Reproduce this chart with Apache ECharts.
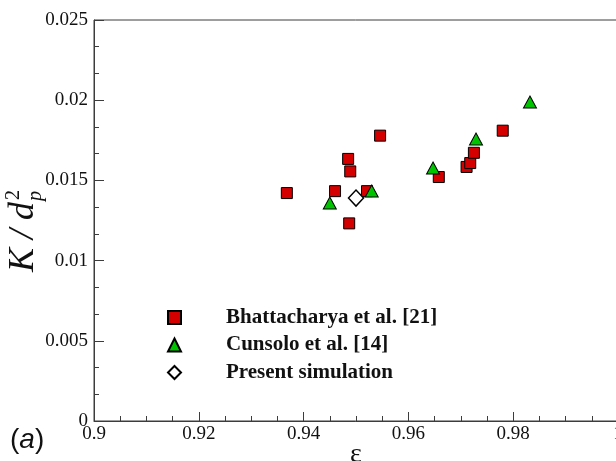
<!DOCTYPE html>
<html>
<head>
<meta charset="utf-8">
<script src="https://cdn.jsdelivr.net/npm/echarts@6/dist/echarts.min.js"></script>
<style>
  html, body { margin: 0; padding: 0; background: #fff; }
  #chart { width: 616px; height: 461px; }
</style>
</head>
<body>
<div id="chart"></div>
<script>
// Porosity (epsilon) and normalised permeability K / dp^2 for each data set
const bhattEps = [0.9368, 0.9460, 0.9485, 0.9489, 0.9487, 0.9546, 0.9521, 0.9658, 0.9711, 0.9718, 0.9725, 0.9780];
const bhattK   = [0.01421, 0.01433, 0.01634, 0.01556, 0.01232, 0.01779, 0.01433, 0.01521, 0.01584, 0.01608, 0.01672, 0.01810];
const cunsoloEps = [0.9450, 0.9530, 0.9647, 0.9729, 0.9832];
const cunsoloK   = [0.01359, 0.01434, 0.01577, 0.01758, 0.01989];
const presentEps = [0.9500];
const presentK   = [0.01390];

const seriesNames = ['Bhattacharya et al. [21]', 'Cunsolo et al. [14]', 'Present simulation'];
const xTicks = [0.9, 0.92, 0.94, 0.96, 0.98, 1];
const yTicks = [0, 0.005, 0.01, 0.015, 0.02, 0.025];

const zip = (xs, ys) => xs.map((x, i) => [x, ys[i]]);
const fmt = v => String(+v.toFixed(4));

const serif = 'Liberation Serif';
const axisColor = '#3c3c3c';

const chart = echarts.init(document.getElementById('chart'), null, { renderer: 'canvas' });

chart.setOption({
  animation: false,
  backgroundColor: '#fff',
  grid: {
    left: 94, top: 20, width: 524, height: 401,
    outerBoundsMode: 'none',
    containLabel: false,
    show: true, borderColor: axisColor, borderWidth: 1,
    backgroundColor: 'transparent'
  },
  legend: {
    orient: 'vertical',
    left: 162, top: 302,
    itemWidth: 13, itemHeight: 13,
    itemGap: 6.5,
    data: seriesNames,
    textStyle: {
      fontFamily: serif, fontWeight: 'bold', fontSize: 21, color: '#111',
      lineHeight: 16, padding: [0, 0, 0, 40]
    }
  },
  xAxis: {
    type: 'value',
    min: xTicks[0], max: xTicks[xTicks.length - 1],
    interval: xTicks[1] - xTicks[0],
    name: 'ε',
    nameLocation: 'middle',
    nameGap: 20,
    nameMoveOverlap: false,
    nameTextStyle: { fontFamily: serif, fontSize: 28, color: '#111' },
    axisLine: { show: true, lineStyle: { color: axisColor, width: 1 } },
    axisTick: { show: true, inside: true, length: 9, lineStyle: { color: axisColor } },
    minorTick: { show: true, splitNumber: 4, length: 5, lineStyle: { color: axisColor } },
    splitLine: { show: false },
    axisLabel: { fontFamily: serif, fontSize: 19, color: '#111', margin: 4, formatter: fmt }
  },
  yAxis: {
    type: 'value',
    min: yTicks[0], max: yTicks[yTicks.length - 1],
    interval: yTicks[1] - yTicks[0],
    axisLine: { show: true, lineStyle: { color: axisColor, width: 1 } },
    axisTick: { show: true, inside: true, length: 10, lineStyle: { color: axisColor } },
    minorTick: { show: true, splitNumber: 3, length: 5, lineStyle: { color: axisColor } },
    splitLine: { show: false },
    axisLabel: { fontFamily: serif, fontSize: 19, color: '#111', margin: 6, formatter: fmt }
  },
  graphic: [
    {
      type: 'text', left: 10, top: 426,
      style: {
        text: '{n|(}{i|a}{n|)}',
        rich: {
          n: { fontFamily: 'Liberation Sans', fontSize: 28, fill: '#111' },
          i: { fontFamily: 'Liberation Sans', fontSize: 28, fontStyle: 'italic', fill: '#111' }
        }
      }
    },
    {
      // rotated y-axis title: K / d with stacked sub/superscript
      type: 'group', x: 24, y: 272, rotation: Math.PI / 2,
      children: [
        { type: 'text', x: 0, y: 0,
          style: { text: 'K / d', font: 'italic 36px "Liberation Serif"', fill: '#111',
                   align: 'left', verticalAlign: 'middle' } },
        { type: 'text', x: 72, y: -10,
          style: { text: '2', font: '20px "Liberation Serif"', fill: '#111',
                   align: 'left', verticalAlign: 'middle' } },
        { type: 'text', x: 71, y: 12,
          style: { text: 'p', font: 'italic 20px "Liberation Serif"', fill: '#111',
                   align: 'left', verticalAlign: 'middle' } }
      ]
    }
  ],
  series: [
    {
      name: seriesNames[0], type: 'scatter',
      data: zip(bhattEps, bhattK),
      symbol: 'rect', symbolSize: 11,
      itemStyle: { color: '#d40000', borderColor: '#000', borderWidth: 1, opacity: 1 }
    },
    {
      name: seriesNames[1], type: 'scatter',
      data: zip(cunsoloEps, cunsoloK),
      symbol: 'triangle', symbolSize: [13, 12],
      itemStyle: { color: '#00c400', borderColor: '#000', borderWidth: 1, opacity: 1 }
    },
    {
      name: seriesNames[2], type: 'scatter',
      data: zip(presentEps, presentK),
      symbol: 'diamond', symbolSize: [15, 16],
      itemStyle: { color: '#fff', borderColor: '#000', borderWidth: 1.5, opacity: 1 }
    }
  ]
});
</script>
</body>
</html>
